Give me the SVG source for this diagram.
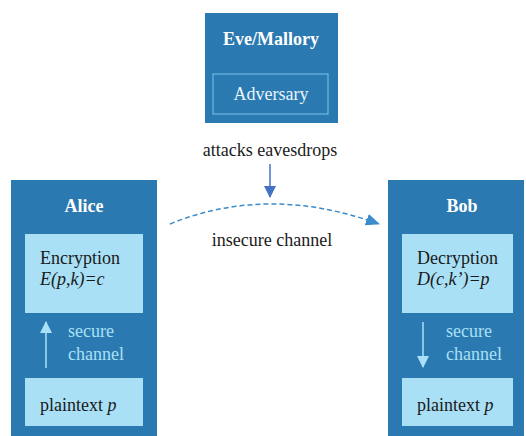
<svg xmlns="http://www.w3.org/2000/svg" width="526" height="436" viewBox="0 0 526 436" font-family="'Liberation Serif', Tinos, 'DejaVu Serif', serif" font-size="18">
  <defs>
    <style>
      .panel { fill: #2b79b1; }
      .inner { fill: #a9e0f6; }
      .title { fill: #ffffff; font-weight: bold; text-anchor: middle; }
      .dark { fill: #1a1a1a; }
      .light { fill: #a9e0f6; }
      .mid { text-anchor: middle; }
    </style>
    <marker id="headLight" markerWidth="12" markerHeight="12" refX="11" refY="6" orient="auto" markerUnits="userSpaceOnUse">
      <path d="M0,0 L12,6 L0,12 Z" fill="#a9e0f6"/>
    </marker>
    <marker id="headBlue" markerWidth="12" markerHeight="12" refX="11" refY="6" orient="auto" markerUnits="userSpaceOnUse">
      <path d="M0,0 L12,6 L0,12 Z" fill="#4472c4"/>
    </marker>
    <marker id="headDash" markerWidth="14" markerHeight="12" refX="13" refY="6" orient="auto" markerUnits="userSpaceOnUse">
      <path d="M0,0 L14,6 L0,12 Z" fill="#3a8ccc"/>
    </marker>
  </defs>

  <!-- Adversary -->
  <g id="eve">
    <rect class="panel" x="205" y="13" width="133" height="110"/>
    <text class="title" x="271" y="45">Eve/Mallory</text>
    <rect x="213" y="74" width="115" height="40" fill="none" stroke="#7fc3ea" stroke-width="1"/>
    <text class="mid" x="271" y="100" fill="#e8f6fc">Adversary</text>
  </g>

  <!-- Sender -->
  <g id="alice">
    <rect class="panel" x="11" y="180" width="146" height="260"/>
    <text class="title" x="84" y="212">Alice</text>
    <rect class="inner" x="25" y="234" width="118" height="79"/>
    <text class="dark" x="40" y="264">Encryption</text>
    <text class="dark" x="40" y="285" font-style="italic">E(p,k)=c</text>
    <text class="light" x="68" y="337">secure</text>
    <text class="light" x="68" y="360">channel</text>
    <rect class="inner" x="25" y="378" width="118" height="48"/>
    <text class="dark" x="40" y="411">plaintext <tspan font-style="italic">p</tspan></text>
  </g>

  <!-- Receiver -->
  <g id="bob">
    <rect class="panel" x="388" y="180" width="136" height="260"/>
    <text class="title" x="462" y="212">Bob</text>
    <rect class="inner" x="402" y="234" width="111" height="79"/>
    <text class="dark" x="417" y="264">Decryption</text>
    <text class="dark" x="417" y="285" font-style="italic">D(c,k’)=p</text>
    <text class="light" x="446" y="337">secure</text>
    <text class="light" x="446" y="360">channel</text>
    <rect class="inner" x="402" y="378" width="111" height="48"/>
    <text class="dark" x="417" y="411">plaintext <tspan font-style="italic">p</tspan></text>
  </g>

  <!-- Channel labels -->
  <text class="dark mid" x="270" y="156">attacks eavesdrops</text>
  <text class="dark mid" x="272" y="246">insecure channel</text>

  <!-- Connectors -->
  <g id="connectors">
    <line x1="46" y1="368" x2="46" y2="322" stroke="#a9e0f6" stroke-width="1.5" marker-end="url(#headLight)"/>
    <line x1="423" y1="322" x2="423" y2="367" stroke="#a9e0f6" stroke-width="1.5" marker-end="url(#headLight)"/>
    <line x1="270" y1="164" x2="270" y2="197" stroke="#4472c4" stroke-width="1.5" marker-end="url(#headBlue)"/>
    <path d="M170,224 Q268,184 379,224" fill="none" stroke="#3a8ccc" stroke-width="1.5" stroke-dasharray="5,3" marker-end="url(#headDash)"/>
  </g>
</svg>
